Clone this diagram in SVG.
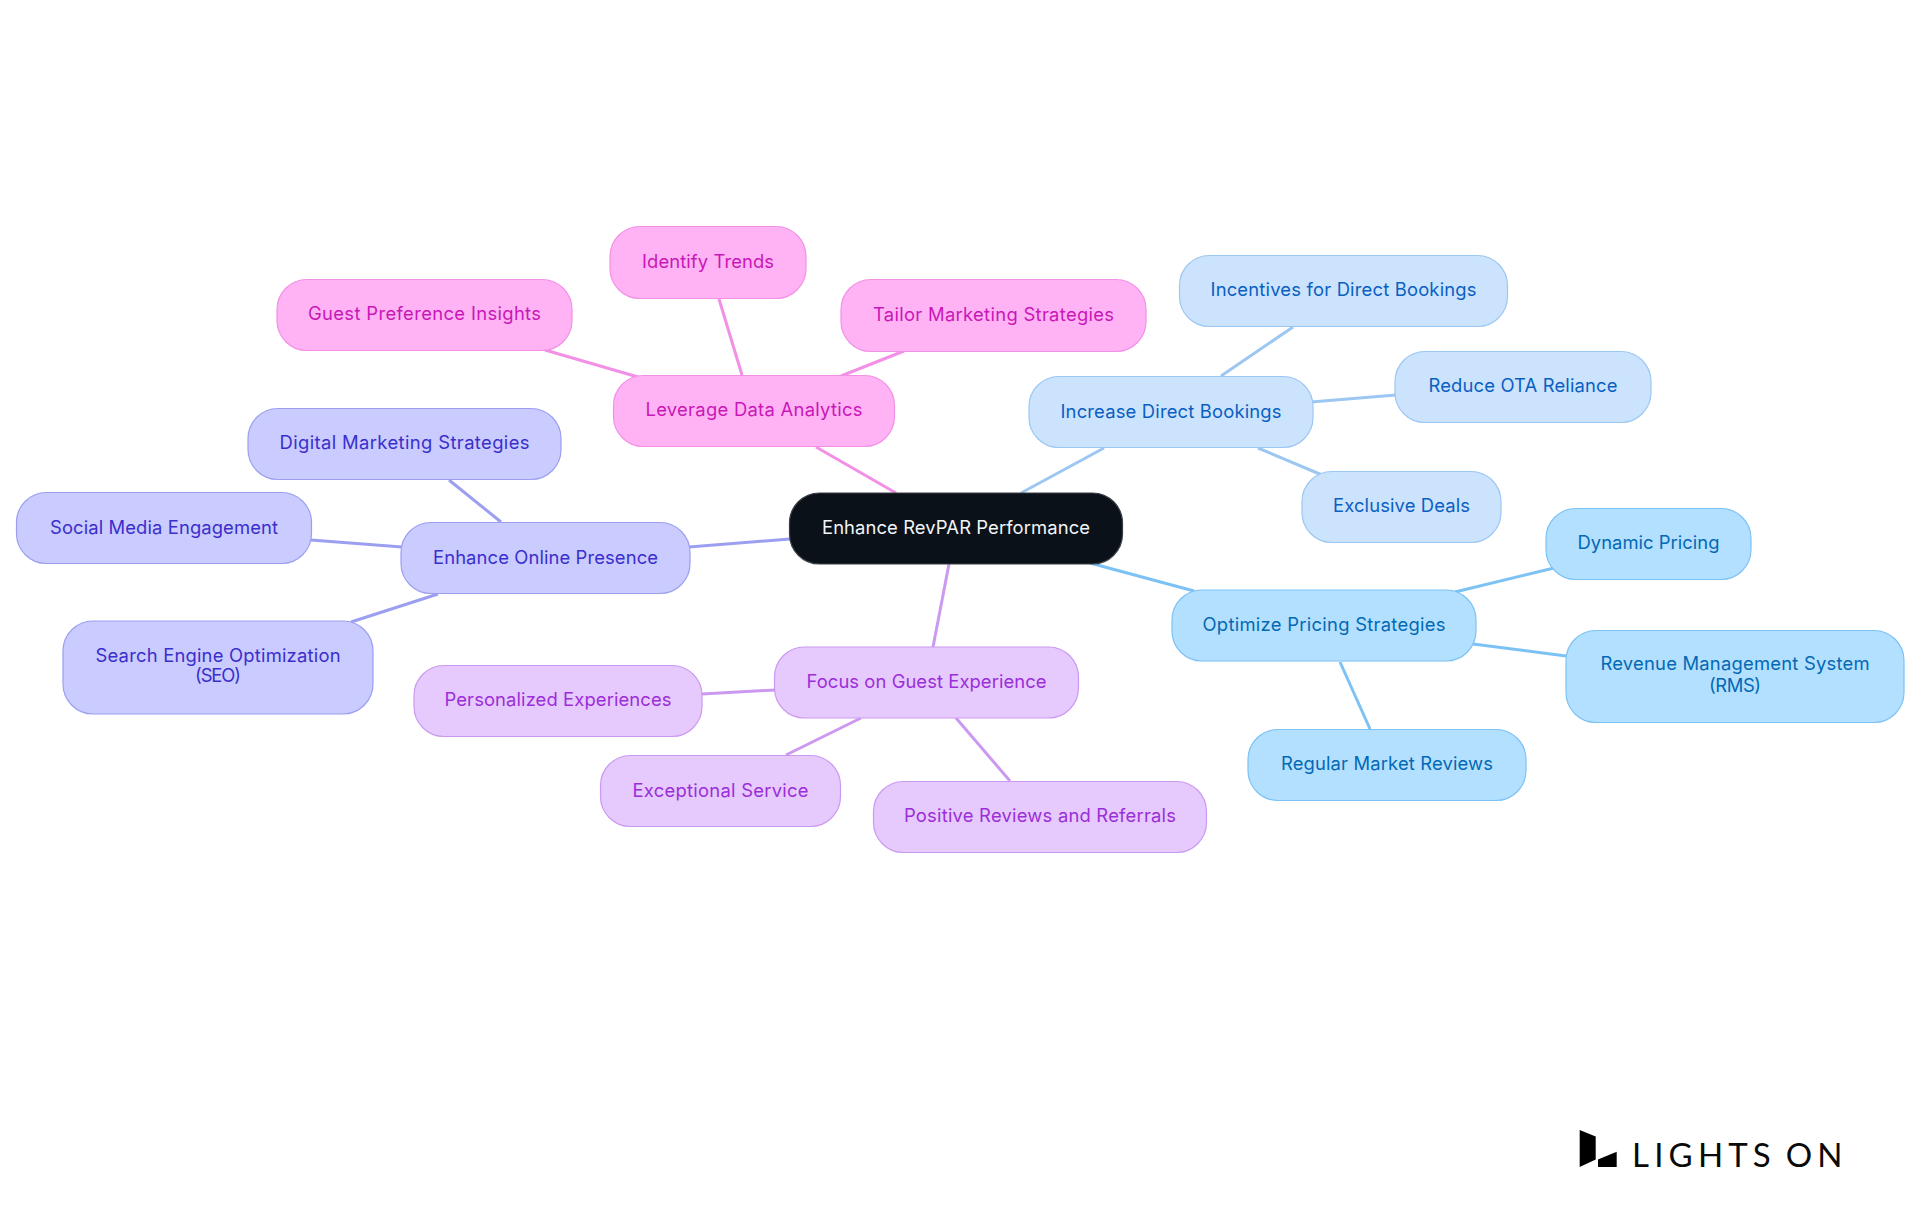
<svg xmlns="http://www.w3.org/2000/svg" width="1920" height="1215" viewBox="0 0 1920 1215">
<style>
text{font-family:Inter,"Noto Sans",sans-serif;font-size:18.400px;text-anchor:middle}
rect{stroke-width:1.2}
#connectors line{stroke-width:3;fill:none}
.r rect{fill:#0b1119;stroke:#3a3f45}.r text{fill:#f2f4f5}
.b rect{fill:#b3e0ff;stroke:#7cc2f5}.b text{fill:#0369b5}
.c rect{fill:#cce3fd;stroke:#9cc7f2}.c text{fill:#0a5fc2}
.i rect{fill:#cacbff;stroke:#9c9ff0}.i text{fill:#3a2fcc}
.p rect{fill:#e6c9fd;stroke:#cb9af0}.p text{fill:#9a2fd8}
.m rect{fill:#ffb3f5;stroke:#f290e5}.m text{fill:#c917b8}
.lb{stroke:#7cc2f5}.lc{stroke:#9cc7f2}.li{stroke:#9c9ff0}.lp{stroke:#cb9af0}.lm{stroke:#f290e5}
#logo text{font-family:Lato,sans-serif;font-size:33px;letter-spacing:5.200px;word-spacing:-4px;text-anchor:start;fill:#0a0a0a}
</style>
<rect width="1920" height="1215" fill="#fff" style="stroke:none"/>
<g id="connectors">
<line class="lm" x1="816" y1="447" x2="896" y2="493"/>
<line class="lc" x1="1104" y1="448" x2="1021" y2="493"/>
<line class="lb" x1="1090" y1="563" x2="1194" y2="591"/>
<line class="lp" x1="949" y1="564" x2="933" y2="647"/>
<line class="li" x1="790" y1="539" x2="689" y2="547"/>
<line class="lc" x1="1293" y1="327" x2="1221" y2="376"/>
<line class="lc" x1="1396" y1="395" x2="1311" y2="402"/>
<line class="lc" x1="1258" y1="448" x2="1322" y2="475"/>
<line class="lb" x1="1455" y1="592" x2="1554" y2="568"/>
<line class="lb" x1="1473" y1="644" x2="1566" y2="656"/>
<line class="lb" x1="1340" y1="662" x2="1370" y2="729"/>
<line class="li" x1="449" y1="480" x2="501" y2="522"/>
<line class="li" x1="311" y1="540" x2="402" y2="547"/>
<line class="li" x1="438" y1="594" x2="351" y2="622"/>
<line class="lp" x1="702" y1="694" x2="775" y2="690"/>
<line class="lp" x1="861" y1="718" x2="786" y2="755"/>
<line class="lp" x1="956" y1="718" x2="1010" y2="781"/>
<line class="lm" x1="719" y1="299" x2="742" y2="375"/>
<line class="lm" x1="545" y1="350" x2="638" y2="377"/>
<line class="lm" x1="904" y1="351" x2="841" y2="376"/>
</g>
<g id="root" class="r"><rect x="789.500" y="493" width="333" height="71" rx="30"/><text x="956" y="534" textLength="268">Enhance RevPAR Performance</text></g>
<g id="optimize" class="b"><rect x="1172" y="590" width="304" height="71" rx="30"/><text x="1324" y="631" textLength="243">Optimize Pricing Strategies</text></g>
<g id="dynamic" class="b"><rect x="1546" y="508.500" width="205" height="71" rx="30"/><text x="1648.500" y="549" textLength="142">Dynamic Pricing</text></g>
<g id="rms" class="b"><rect x="1566" y="630.500" width="338" height="92" rx="30"/><text x="1735" y="670" textLength="269">Revenue Management System</text><text x="1735" y="692" textLength="52">(RMS)</text></g>
<g id="regular" class="b"><rect x="1248" y="729.500" width="278" height="71" rx="30"/><text x="1387" y="770" textLength="212">Regular Market Reviews</text></g>
<g id="increase" class="c"><rect x="1029" y="376.500" width="284" height="71" rx="30"/><text x="1171" y="418" textLength="221">Increase Direct Bookings</text></g>
<g id="incentives" class="c"><rect x="1179.500" y="255.500" width="328" height="71" rx="30"/><text x="1343.500" y="296" textLength="266">Incentives for Direct Bookings</text></g>
<g id="reduce" class="c"><rect x="1395" y="351.500" width="256" height="71" rx="30"/><text x="1523" y="392" textLength="189">Reduce OTA Reliance</text></g>
<g id="exclusive" class="c"><rect x="1302" y="471.500" width="199" height="71" rx="30"/><text x="1401.500" y="512" textLength="137">Exclusive Deals</text></g>
<g id="online" class="i"><rect x="401" y="522.500" width="289" height="71" rx="30"/><text x="545.500" y="564" textLength="225">Enhance Online Presence</text></g>
<g id="digital" class="i"><rect x="248" y="408.500" width="313" height="71" rx="30"/><text x="404.500" y="449" textLength="250">Digital Marketing Strategies</text></g>
<g id="social" class="i"><rect x="16.500" y="492.500" width="295" height="71" rx="30"/><text x="164" y="533.500" textLength="228">Social Media Engagement</text></g>
<g id="seo" class="i"><rect x="63" y="621" width="310" height="93" rx="30"/><text x="218" y="661.500" textLength="245">Search Engine Optimization</text><text x="218" y="682" textLength="46">(SEO)</text></g>
<g id="focus" class="p"><rect x="774.500" y="647" width="304" height="71" rx="30"/><text x="926.500" y="688" textLength="240">Focus on Guest Experience</text></g>
<g id="personalized" class="p"><rect x="414" y="665.500" width="288" height="71" rx="30"/><text x="558" y="706" textLength="227">Personalized Experiences</text></g>
<g id="exceptional" class="p"><rect x="600.500" y="755.500" width="240" height="71" rx="30"/><text x="720.500" y="796.500" textLength="176">Exceptional Service</text></g>
<g id="positive" class="p"><rect x="873.500" y="781.500" width="333" height="71" rx="30"/><text x="1040" y="821.500" textLength="272">Positive Reviews and Referrals</text></g>
<g id="leverage" class="m"><rect x="613.500" y="375.500" width="281" height="71" rx="30"/><text x="754" y="416" textLength="217">Leverage Data Analytics</text></g>
<g id="identify" class="m"><rect x="610" y="226.500" width="196" height="72" rx="30"/><text x="708" y="268" textLength="132">Identify Trends</text></g>
<g id="guest" class="m"><rect x="277" y="279.500" width="295" height="71" rx="30"/><text x="424.500" y="319.500" textLength="233">Guest Preference Insights</text></g>
<g id="tailor" class="m"><rect x="841" y="279.500" width="305" height="72" rx="30"/><text x="993.500" y="320.500" textLength="241">Tailor Marketing Strategies</text></g>
<g id="logo">
<polygon points="1579.700,1130 1595.700,1136.500 1595.700,1159.500 1579.700,1167"/>
<polygon points="1598,1159.500 1616.700,1151.700 1616.700,1167 1598,1167"/>
<text x="1632" y="1167">LIGHTS ON</text>
</g>
</svg>
